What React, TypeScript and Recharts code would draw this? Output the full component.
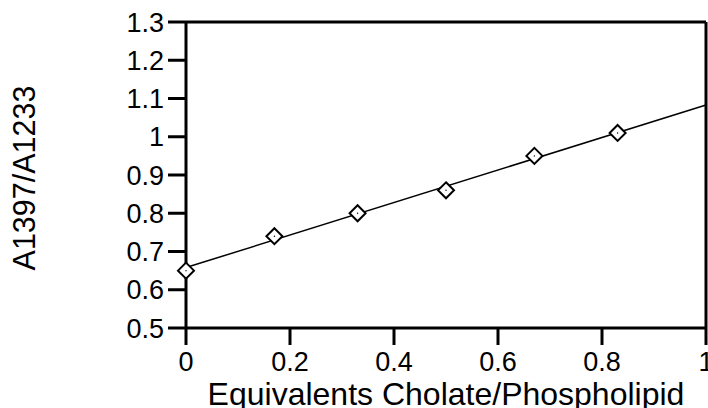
import React from 'react';
import {
  ComposedChart,
  Line,
  Scatter,
  XAxis,
  YAxis,
  ReferenceLine,
} from 'recharts';

// measured points (equivalents cholate/phospholipid vs A1397/A1233)
const xValues = [0, 0.17, 0.33, 0.5, 0.67, 0.83];
const yValues = [0.65, 0.74, 0.8, 0.86, 0.95, 1.01];

// fitted straight line, read at both ends of the x range
const fitX = [0, 1];
const fitY = [0.658, 1.083];

const xTicks = [0, 0.2, 0.4, 0.6, 0.8, 1];
const yTicks = [0.5, 0.6, 0.7, 0.8, 0.9, 1, 1.1, 1.2, 1.3];

const points = xValues.map((x, i) => ({ x, y: yValues[i] }));
const fitLine = fitX.map((x, i) => ({ x, y: fitY[i] }));

const FONT = '"Liberation Sans", Arial, sans-serif';

const Diamond = (props: any) => {
  const { cx, cy } = props;
  const r = 8;
  return (
    <g>
      <path
        d={`M${cx},${cy - r}L${cx + r},${cy}L${cx},${cy + r}L${cx - r},${cy}Z`}
        fill="#fff"
        stroke="#000"
        strokeWidth={2}
      />
      <circle cx={cx} cy={cy} r={0.7} fill="#000" />
    </g>
  );
};

const YLabel = (props: any) => {
  const { viewBox } = props;
  const cx = viewBox.x + 24;
  const cy = viewBox.y + viewBox.height / 2 + 3;
  return (
    <text
      x={cx}
      y={cy}
      transform={`rotate(-90, ${cx}, ${cy})`}
      textAnchor="middle"
      dominantBaseline="central"
      fontSize={30.5}
      fontFamily={FONT}
      fill="#000"
    >
      A1397/A1233
    </text>
  );
};

const XLabel = (props: any) => {
  const { viewBox } = props;
  return (
    <text
      x={viewBox.x + viewBox.width / 2}
      y={viewBox.y + 77}
      textAnchor="middle"
      fontSize={32}
      fontFamily={FONT}
      fill="#000"
    >
      Equivalents Cholate/Phospholipid
    </text>
  );
};

export default function App() {
  return (
    <div style={{ position: 'absolute', left: 0, top: 0, background: '#fff' }}>
      <ComposedChart
        width={708}
        height={408}
        margin={{ top: 22, right: 2, left: 0, bottom: 0 }}
        style={{ fontFamily: FONT }}
      >
        <XAxis
          type="number"
          dataKey="x"
          domain={[0, 1]}
          ticks={xTicks}
          interval={0}
          tickFormatter={(v: number) => String(v)}
          height={80}
          tickSize={17}
          tickMargin={7}
          axisLine={{ stroke: '#000', strokeWidth: 3 }}
          tickLine={{ stroke: '#000', strokeWidth: 3 }}
          tick={{ fill: '#000', fontSize: 27, fontFamily: FONT }}
          label={<XLabel />}
        />
        <YAxis
          type="number"
          dataKey="y"
          domain={[0.5, 1.3]}
          ticks={yTicks}
          interval={0}
          tickFormatter={(v: number) => String(v)}
          width={186}
          tickSize={18}
          tickMargin={4}
          axisLine={{ stroke: '#000', strokeWidth: 3 }}
          tickLine={{ stroke: '#000', strokeWidth: 3 }}
          tick={{ fill: '#000', fontSize: 27, fontFamily: FONT }}
          label={<YLabel />}
        />
        <ReferenceLine y={1.3} stroke="#000" strokeWidth={3} />
        <ReferenceLine x={1} stroke="#000" strokeWidth={3} />
        <Line
          data={fitLine}
          dataKey="y"
          type="linear"
          stroke="#000"
          strokeWidth={1.5}
          dot={false}
          activeDot={false}
          isAnimationActive={false}
        />
        <Scatter
          data={points}
          dataKey="y"
          shape={<Diamond />}
          isAnimationActive={false}
        />
      </ComposedChart>
    </div>
  );
}
